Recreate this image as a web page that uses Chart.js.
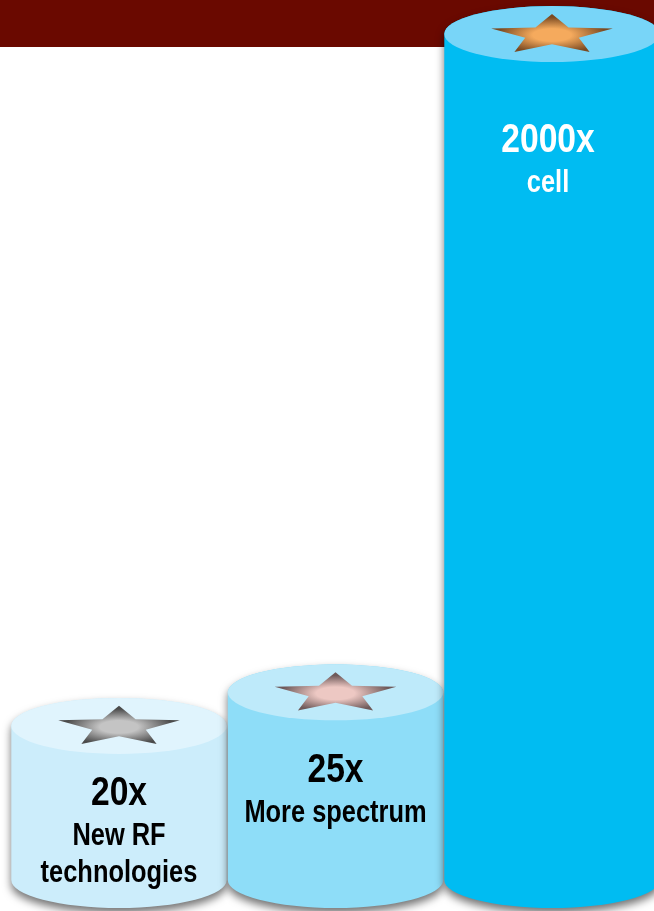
<!DOCTYPE html>
<html><head><meta charset="utf-8">
<script src="https://cdn.jsdelivr.net/npm/chart.js@4"></script>
<style>
html,body{margin:0;padding:0;overflow:hidden;background:#fff;width:654px;height:911px}
#wrap{position:absolute;left:0;top:0;width:672px;height:911px}
</style></head><body>
<div id="wrap"><canvas id="c"></canvas></div>
<script>
// ---- data ----
const categories = ['New RF technologies', 'More spectrum', 'cell'];
const gains = [20, 25, 2000];
const valueLabels = ['20x', '25x', '2000x'];
const descLines = [['New RF', 'technologies'], ['More spectrum'], ['cell']];

// ---- style ----
const sideColors = ['#CCEDFB', '#8EDDF8', '#00BCF2'];
const topColors = ['#E0F4FD', '#BEEAFA', '#78D5F8'];
const starLight = ['#C4C4C4', '#EDC8C3', '#F5AA5D'];
const starDark = ['#4B4B4B', '#6E5959', '#7A4A22'];
const textColors = ['#000000', '#000000', '#FFFFFF'];
const textOffsets = [[79, 119, 156], [90, 130], [118, 158]];
const textDx = [0, 0, -4];
const BAND_COLOR = '#6A0900';

function fontAvailable(name){
  const c = document.createElement('canvas').getContext('2d');
  const probes = ['monospace', 'serif'];
  for (const p of probes){
    c.font = 'bold 40px ' + p;
    const a = c.measureText('2000x technologies').width;
    c.font = 'bold 40px "' + name + '", ' + p;
    const b = c.measureText('2000x technologies').width;
    if (Math.abs(a - b) > 0.5) return true;
  }
  return false;
}
const HAS_NARROW = fontAvailable('Liberation Sans Narrow');
const FONT_FAMILY = HAS_NARROW ? '"Liberation Sans Narrow", sans-serif' : '"Liberation Sans", Arial, sans-serif';
const SX = HAS_NARROW ? 1 : 0.82;

function drawText(ctx, t, x, y, size, color){
  ctx.save();
  ctx.font = 'bold ' + size + 'px ' + FONT_FAMILY;
  ctx.fillStyle = color;
  ctx.textAlign = 'center';
  ctx.textBaseline = 'alphabetic';
  ctx.translate(x, y);
  ctx.scale(SX, 1);
  ctx.fillText(t, 0, 0);
  ctx.restore();
}

function drawStar(ctx, cx, cy, R, sy, inner, c0, c1){
  ctx.save();
  ctx.translate(cx, cy);
  ctx.scale(1, sy);
  ctx.beginPath();
  for (let k = 0; k < 10; k++){
    const r = k % 2 ? R * inner : R;
    const a = -Math.PI / 2 + k * Math.PI / 5;
    ctx.lineTo(r * Math.cos(a), r * Math.sin(a));
  }
  ctx.closePath();
  const g = ctx.createRadialGradient(0, 0, 0, 0, 0, R);
  g.addColorStop(0, c0);
  g.addColorStop(0.3, c0);
  g.addColorStop(0.85, c1);
  g.addColorStop(1, c1);
  ctx.fillStyle = g;
  ctx.fill();
  ctx.restore();
}

const cylinderPlugin = {
  id: 'cylinders',
  beforeDraw(chart){
    const ctx = chart.ctx;
    ctx.save();
    ctx.fillStyle = BAND_COLOR;
    ctx.fillRect(0, 0, chart.width, 47);
    ctx.restore();
  },
  afterDatasetsDraw(chart){
    const ctx = chart.ctx;
    const meta = chart.getDatasetMeta(0);
    meta.data.forEach((bar, i) => {
      const {x, y, base, width} = bar.getProps(['x', 'y', 'base', 'width'], true);
      const rx = width / 2, ry = 28;
      ctx.save();
      ctx.shadowColor = 'rgba(0,0,0,0.55)';
      ctx.shadowBlur = 9;
      ctx.shadowOffsetY = 5;
      ctx.beginPath();
      ctx.moveTo(x - rx, y);
      ctx.lineTo(x - rx, base);
      ctx.ellipse(x, base, rx, ry, 0, Math.PI, 0, true);
      ctx.lineTo(x + rx, y);
      ctx.ellipse(x, y, rx, ry, 0, 0, Math.PI, true);
      ctx.closePath();
      ctx.fillStyle = sideColors[i];
      ctx.fill();
      ctx.restore();
      ctx.save();
      ctx.beginPath();
      ctx.ellipse(x, y, rx, ry, 0, 0, Math.PI * 2);
      ctx.fillStyle = topColors[i];
      ctx.fill();
      ctx.restore();
      drawStar(ctx, x, y + 1, 64, 0.33, 0.44, starLight[i], starDark[i]);
      const offs = textOffsets[i];
      drawText(ctx, valueLabels[i], x + textDx[i], y + offs[0], 41, textColors[i]);
      descLines[i].forEach((line, j) => {
        drawText(ctx, line, x + textDx[i], y + offs[j + 1], 31, textColors[i]);
      });
    });
  }
};

new Chart(document.getElementById('c'), {
  type: 'bar',
  data: {
    labels: categories,
    datasets: [{
      data: gains,
      backgroundColor: 'rgba(0,0,0,0)',
      borderWidth: 0,
      barPercentage: 1,
      categoryPercentage: 0.995
    }]
  },
  options: {
    responsive: true,
    maintainAspectRatio: false,
    animation: false,
    layout: { padding: { left: 10.75, right: 11.75, top: 34, bottom: 31 } },
    plugins: { legend: { display: false }, tooltip: { enabled: false } },
    scales: {
      x: { display: false },
      y: { type: 'logarithmic', display: false, min: 7.17, max: 2000, bounds: 'data' }
    }
  },
  plugins: [cylinderPlugin]
});
</script>
</body></html>
